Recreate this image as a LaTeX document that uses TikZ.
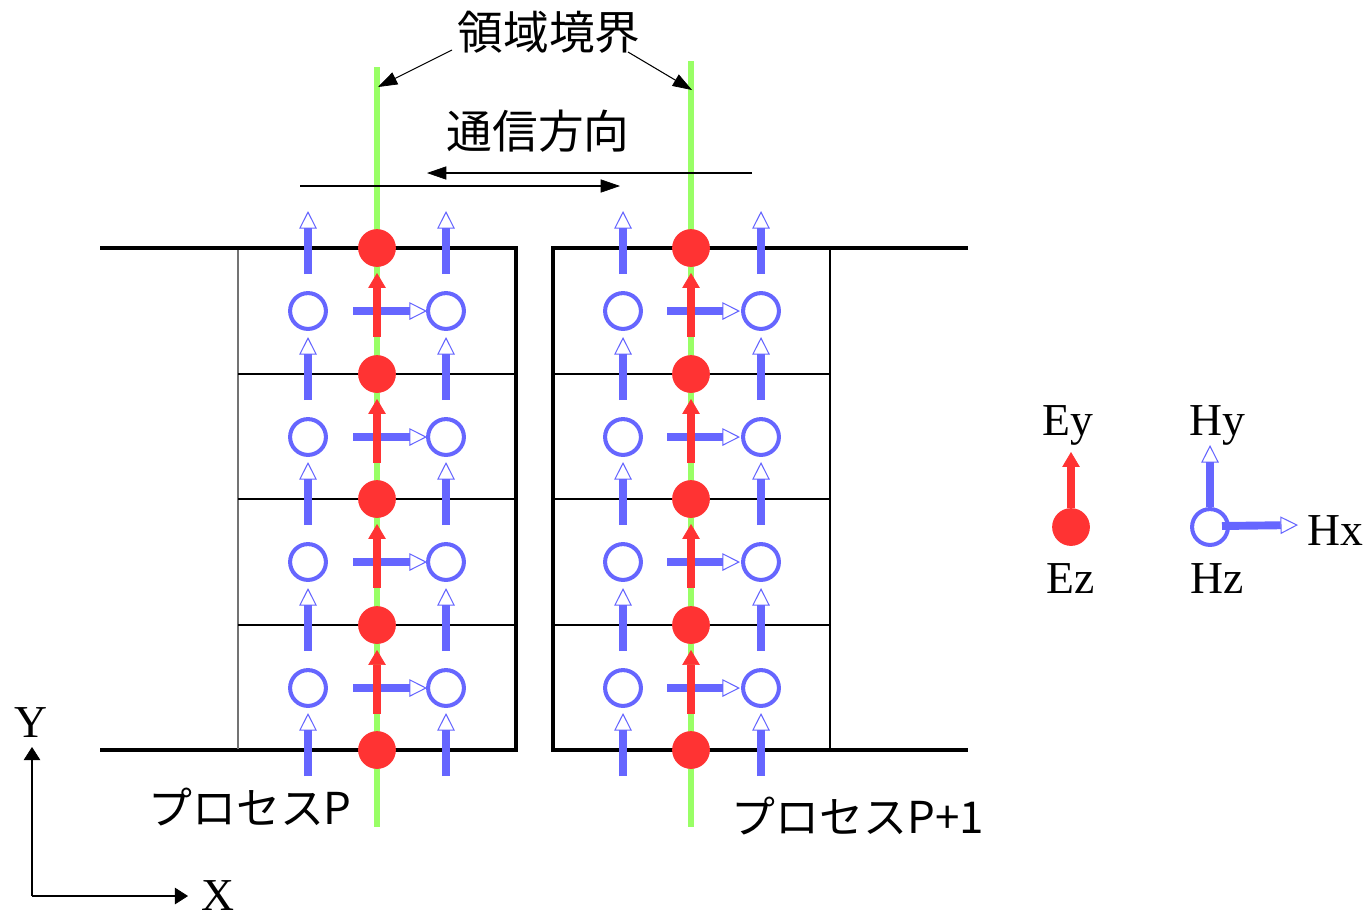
\documentclass[tikz,border=0pt]{standalone}
\usepackage{fontspec}
\setmainfont{Liberation Serif}
\newfontfamily\jpfont{Noto Sans CJK JP}
\usetikzlibrary{arrows.meta}
\definecolor{hblue}{RGB}{102,102,255}
\definecolor{ered}{RGB}{255,51,51}
\definecolor{bgreen}{RGB}{153,255,102}
\begin{document}
\begin{tikzpicture}[x=0.02cm,y=-0.02cm,
  wall/.style={line width=2.3pt, line join=miter},
  cellline/.style={line width=0.6pt},
  cellgray/.style={line width=0.8pt, black!55},
  boundary/.style={line width=3.7pt, bgreen},
  ez/.style={circle, fill=ered, inner sep=0pt, minimum size=21.5pt},
  hz/.style={circle, draw=hblue, line width=2.3pt, inner sep=0pt, minimum size=20.4pt},
  hfield/.style={hblue, line width=4.5pt, -{Triangle[open, width=10pt, length=10pt, line width=0.6pt]}},
  efield/.style={ered, line width=4.2pt, -{Triangle[width=10pt, length=8.5pt, line width=0.4pt]}},
  thinarrow/.style={line width=0.6pt, -{Triangle[width=7.5pt, length=11pt, line width=0.4pt]}},
  axisarrow/.style={line width=0.6pt, -{Triangle[width=9.5pt, length=7.5pt, line width=0.4pt]}},
  jplabel/.style={font=\jpfont\fontsize{26pt}{30pt}\selectfont, inner sep=0pt},
  proclabel/.style={font=\jpfont\fontsize{25pt}{30pt}\selectfont, inner sep=0pt},
  serlabel/.style={font=\fontsize{26pt}{30pt}\selectfont, inner sep=0pt, anchor=base}]
\useasboundingbox (0,0) rectangle (1371,921);

% walls of the two process domains
\draw[wall] (100,248) -- (516,248) -- (516,750) -- (100,750);
\draw[wall] (968,248) -- (553,248) -- (553,750) -- (968,750);
% cell lines
\draw[cellgray] (238,250) -- (238,749);
\foreach \y in {374,499,625} \draw[cellline] (238,\y) -- (515,\y);
\draw[cellline] (830,250) -- (830,749);
\foreach \y in {374,499,625} \draw[cellline] (554,\y) -- (830,\y);

% domain boundaries
\coordinate (bl-top) at (377,67);
\coordinate (bl-bot) at (377,827);
\coordinate (br-top) at (691,61);
\coordinate (br-bot) at (691,827);
\draw[boundary] (bl-top) -- (bl-bot);
\draw[boundary] (br-top) -- (br-bot);

% Hy arrows
\foreach \x in {308,446,623,761}
  \foreach \y in {248,374,499,625,750}
    \draw[hfield] (\x,\y+26) -- (\x,\y-37);

% Hz circles
\foreach \x in {308,446,623,761}
  \foreach \y [count=\i] in {311,437,562,688}
    \node[hz] (hz-\x-\i) at (\x,\y) {};

% Hx arrows
\foreach \xa/\xb in {353/427,667/740}
  \foreach \y in {311,437,562,688}
    \draw[hfield] (\xa,\y) -- (\xb,\y);

% Ez dots
\foreach \x in {377,691}
  \foreach \y [count=\i] in {248,374,499,625,750}
    \node[ez] (ez-\x-\i) at (\x,\y) {};

% Ey arrows
\foreach \x in {377,691}
  \foreach \y in {311,437,562,688}
    \draw[efield] (\x,\y+26) -- (\x,\y-38);

% top labels and arrows
\node[jplabel] (t-boundary) at (549,32) {領域境界};
\coordinate (pl-from) at (452,50);
\coordinate (pl-to) at (378,87);
\coordinate (pr-from) at (628,52);
\coordinate (pr-to) at (692,90);
\draw[thinarrow] (pl-from) -- (pl-to);
\draw[thinarrow] (pr-from) -- (pr-to);

\node[jplabel] (t-comm) at (538,131) {通信方向};
\coordinate (c1-from) at (752,173);
\coordinate (c1-to) at (427,173);
\coordinate (c2-from) at (300,186);
\coordinate (c2-to) at (620,186);
\draw[thinarrow] (c1-from) -- (c1-to);
\draw[thinarrow] (c2-from) -- (c2-to);

% process labels
\node[proclabel] (t-p) at (250,807) {プロセスP};
\node[proclabel] (t-p1) at (858,816) {プロセスP+1};

% axes
\coordinate (origin) at (32,896);
\coordinate (yend) at (32,747);
\coordinate (xend) at (188,896);
\draw[axisarrow] (origin) -- (yend);
\draw[axisarrow] (origin) -- (xend);
\node[serlabel] (t-y) at (31,737) {Y};
\node[serlabel] (t-x) at (218,910) {X};

% legend
\coordinate (ey-leg-from) at (1071,508);
\coordinate (ey-leg-to) at (1071,452);
\draw[efield] (ey-leg-from) -- (ey-leg-to);
\node[ez] (ez-leg) at (1071,527) {};
\node[hz] (hz-leg) at (1210,527) {};
\coordinate (hy-leg-to) at (1210,445);
\coordinate (hx-leg-from) at (1222,526);
\coordinate (hx-leg-to) at (1298,525);
\draw[hfield] (hz-leg.north) -- (hy-leg-to);
\draw[hfield] (hx-leg-from) -- (hx-leg-to);
\node[serlabel] (t-ey) at (1068,435) {Ey};
\node[serlabel] (t-hy) at (1217,435) {Hy};
\node[serlabel] (t-hx) at (1335,545) {Hx};
\node[serlabel] (t-ez) at (1071,593) {Ez};
\node[serlabel] (t-hz) at (1217,593) {Hz};
\end{tikzpicture}
\end{document}
